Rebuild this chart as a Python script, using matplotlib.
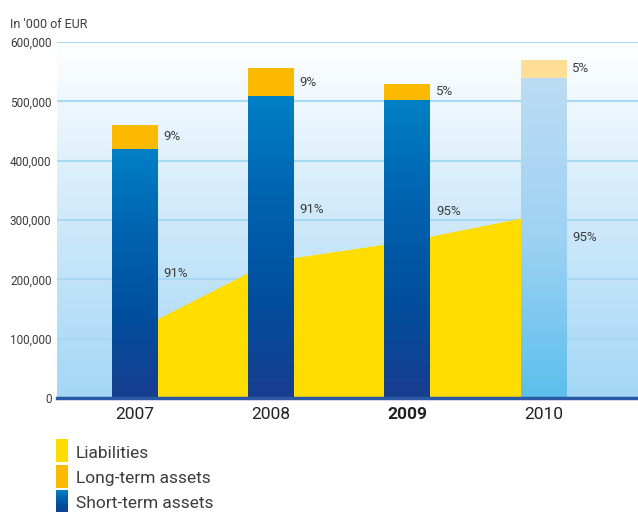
import matplotlib.pyplot as plt
import matplotlib.patches as mpatches
import numpy as np
from matplotlib.colors import LinearSegmentedColormap

plt.rcParams['font.family'] = ['Roboto', 'DejaVu Sans']

years = ['2007', '2008', '2009', '2010']
short_term = [420000, 509000, 503000, 540000]
long_term = [40000, 47000, 26000, 30000]
liabilities = [114000, 231000, 265000, 311000]
short_pct = ['91%', '91%', '95%', '95%']
long_pct = ['9%', '9%', '5%', '5%']
# where the short-term share labels sit (value axis)
short_label_y = [210000, 317000, 315000, 271000]

text_col = '#3c3c3c'
dark_blue = LinearSegmentedColormap.from_list(
    'db', ['#183d8f', '#004f9d', '#0063b0', '#0080c6'])
light_blue = LinearSegmentedColormap.from_list(
    'lb', ['#5cbfec', '#9ed2f3', '#bddcf4'])
bg_cmap = LinearSegmentedColormap.from_list(
    'bg', ['#a3d7f5', '#cfe9fa', '#ffffff'])
grad = np.linspace(0, 1, 256).reshape(-1, 1)

fig = plt.figure(figsize=(6.38, 5.12), dpi=100)
ax = fig.add_axes([57 / 638, 1 - 398 / 512, 1 - 57 / 638, 356 / 512])

x = np.arange(len(years))
width = 0.337
ax.set_xlim(-0.568, 3.689)
ax.set_ylim(0, 600000)

# background wash
ax.imshow(grad, cmap=bg_cmap, origin='lower', aspect='auto',
          extent=[-0.568, 3.689, 0, 600000], zorder=0)
for v in range(100000, 600001, 100000):
    ax.axhline(v, color='#a8d9f4', lw=1.5, zorder=1)

ax.fill_between(x, liabilities, color='#ffdd00', lw=0, zorder=2)

st_bars = ax.bar(x, short_term, width, color='none', lw=0, zorder=3)
lt_colors = ['#fbb900', '#fbb900', '#fbb900', '#fedd94']
ax.bar(x, long_term, width, bottom=short_term, color=lt_colors, lw=0,
       zorder=3)

for i, b in enumerate(st_bars):
    cm = light_blue if i == 3 else dark_blue
    im = ax.imshow(grad, cmap=cm, origin='lower', aspect='auto',
                   extent=[x[i] - width / 2, x[i] + width / 2, 0,
                           short_term[i]], zorder=3)
    im.set_clip_path(b)

for i in range(len(years)):
    ax.text(x[i] + width / 2 + 0.04, short_term[i] + long_term[i] / 2,
            long_pct[i], fontsize=9.5, color=text_col, va='center')
    ax.text(x[i] + width / 2 + 0.04, short_label_y[i], short_pct[i],
            fontsize=9.5, color=text_col, va='center')

ax.set_xlim(-0.568, 3.689)
ax.set_ylim(0, 600000)
for s in ['top', 'right', 'left']:
    ax.spines[s].set_visible(False)
ax.spines['bottom'].set_color('#2b59a5')
ax.spines['bottom'].set_linewidth(2.5)
ax.spines['bottom'].set_zorder(5)

ax.set_yticks(range(0, 600001, 100000))
ax.set_yticklabels(['{:,}'.format(v) for v in range(0, 600001, 100000)])
ax.tick_params(axis='y', length=0, pad=4, labelsize=8.5,
               labelcolor=text_col)
ax.set_xticks(x)
ax.set_xticklabels(years)
ax.tick_params(axis='x', length=0, pad=6.5, labelsize=12.5,
               labelcolor='#222222')
ax.get_xticklabels()[2].set_fontweight('bold')

fig.text(10 / 638, 1 - 24 / 512, "In '000 of EUR", fontsize=9,
         color=text_col, va='center')

# legend swatches
legend_items = [('Liabilities', '#ffdd00'),
                ('Long-term assets', '#fbb900'),
                ('Short-term assets', None)]
for k, (name, col) in enumerate(legend_items):
    top = 439 + k * 25.5
    sw = fig.add_axes([56 / 638, 1 - (top + 23) / 512, 12 / 638, 23 / 512])
    sw.set_axis_off()
    if col is None:
        sw.imshow(grad, cmap=dark_blue, origin='lower', aspect='auto')
    else:
        sw.add_patch(mpatches.Rectangle((0, 0), 1, 1, color=col))
        sw.set_xlim(0, 1)
        sw.set_ylim(0, 1)
    fig.text(76 / 638, 1 - (top + 14) / 512, name, fontsize=12.5,
             color=text_col, va='center')

fig.savefig('out.png', dpi=100)
